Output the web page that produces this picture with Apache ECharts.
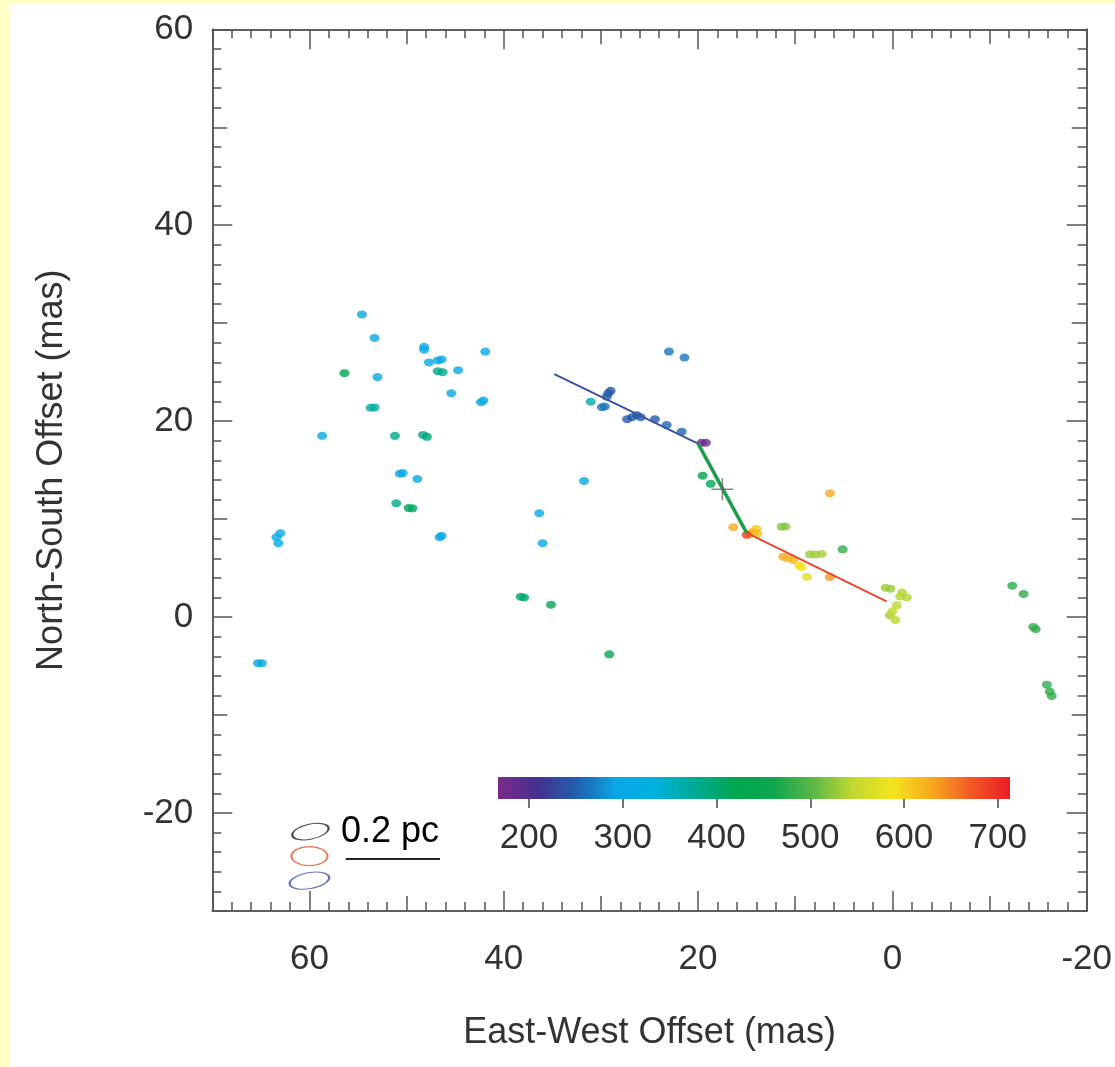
<!DOCTYPE html>
<html lang="en">
<head>
<meta charset="utf-8">
<title>Maser spots</title>
<script src="https://cdn.jsdelivr.net/npm/echarts@6.0.0/dist/echarts.min.js"></script>
<style>
  html, body { margin: 0; padding: 0; background: #ffffc6; }
  #main { position: absolute; left: 10px; top: 4px; width: 1105px; height: 1063px; background: #fff; }
</style>
</head>
<body>
<div id="main"></div>
<script>
// maser spots: [east-west offset (mas), north-south offset (mas), velocity (km/s)]
var spots = [
  [54.6, 30.9, 305], [53.3, 28.5, 305], [48.2, 27.3, 305], [48.2, 27.6, 305],
  [41.9, 27.1, 305], [47.7, 26.0, 305], [46.8, 26.2, 305], [46.4, 26.3, 305],
  [46.8, 25.1, 385], [46.3, 25.0, 385], [44.7, 25.2, 305], [56.4, 24.9, 420],
  [53.0, 24.5, 305], [45.4, 22.85, 305], [42.35, 21.93, 305], [42.1, 22.1, 305],
  [53.7, 21.37, 370], [53.3, 21.4, 370], [58.7, 18.5, 305], [51.2, 18.5, 385],
  [48.3, 18.6, 390], [47.9, 18.4, 390], [50.7, 14.64, 305], [50.4, 14.7, 305],
  [48.9, 14.1, 305], [51.06, 11.62, 385], [49.8, 11.14, 410], [49.4, 11.1, 410],
  [36.35, 10.6, 305], [63.4, 8.15, 305], [63.0, 8.56, 305], [63.2, 7.54, 305],
  [46.6, 8.15, 305], [46.4, 8.3, 305], [36.0, 7.54, 305], [65.3, -4.7, 305],
  [64.9, -4.7, 305], [38.26, 2.08, 400], [37.9, 2.0, 400], [35.14, 1.27, 430],
  [29.14, -3.8, 430], [31.74, 13.9, 305],
  [23.0, 27.1, 265], [21.4, 26.5, 265], [29.24, 22.85, 245], [29.0, 23.1, 245],
  [29.4, 22.5, 250], [31.05, 21.99, 360], [29.9, 21.42, 265], [29.6, 21.5, 265],
  [26.8, 20.4, 245], [27.3, 20.2, 245], [26.3, 20.6, 245], [25.9, 20.4, 250],
  [24.44, 20.2, 250], [23.23, 19.6, 255], [21.69, 18.93, 255],
  [19.63, 17.8, 180], [19.2, 17.8, 180],
  [19.53, 14.44, 420], [18.7, 13.6, 420],
  [6.43, 12.64, 630], [16.38, 9.17, 630], [14.32, 8.72, 620], [14.0, 9.0, 610],
  [14.6, 8.5, 625], [13.9, 8.5, 615], [15.0, 8.4, 690], [11.4, 9.23, 520],
  [11.0, 9.25, 520], [11.23, 6.17, 630], [10.8, 6.0, 620], [10.2, 5.83, 625],
  [9.34, 5.1, 585], [9.6, 5.3, 590], [8.8, 4.1, 570], [8.48, 6.41, 530],
  [7.9, 6.4, 530], [7.28, 6.44, 535], [5.12, 6.92, 480], [6.43, 4.1, 640],
  [0.7, 3.0, 530], [0.2, 2.9, 530], [-0.8, 2.1, 540], [-1.5, 2.0, 540],
  [-1.0, 2.5, 540], [-0.46, 1.2, 545], [0.25, 0.2, 530], [-0.3, -0.3, 545],
  [0.0, 0.6, 550],
  [-12.34, 3.21, 475], [-13.5, 2.36, 480], [-14.75, -1.24, 480], [-14.5, -1.0, 480],
  [-15.9, -6.9, 480], [-16.2, -7.6, 480], [-16.4, -8.05, 480]
];

// fitted jet track, three pieces
var blueTrack = [[34.8, 24.8], [20.0, 17.7]];
var greenTrack = [[20.0, 17.7], [15.0, 8.6]];
var redTrack = [[15.0, 8.6], [0.6, 1.6]];

var centre = [[17.5, 13.05]];
var beamCentres = [[59.9, -21.9], [60.0, -24.4], [60.0, -26.9]];
var scaleBar = [[56.27, -24.7], [46.56, -24.7]];

var xLabels = [-20, 0, 20, 40, 60];
var yLabels = [-20, 0, 20, 40, 60];
var velocityRange = [167, 713];
var velocityLabels = [200, 300, 400, 500, 600, 700];

var jet = ['#7d2b8b', '#44308f', '#2160ad', '#0aa6e6', '#00b2de', '#00aa94', '#00a651',
           '#0ea64e', '#5cb847', '#c0d730', '#f4e41d', '#f8aa1e', '#f15a24', '#ec1c24'];

var FONT = 'Liberation Sans';
var grey = '#555';
var labelStyle = { fontFamily: FONT, fontSize: 35, color: '#333' };

function frameAxis(kind, position, longTicks, labels) {
  var ax = {
    type: 'value',
    gridIndex: 0,
    position: position,
    splitLine: { show: false },
    axisLine: { show: true, onZero: false, lineStyle: { color: grey, width: 1.5 } },
    axisTick: { show: true, inside: true, length: longTicks ? 20 : 15, lineStyle: { color: grey, width: 1.5 } },
    minorTick: { show: !longTicks, splitNumber: 5, length: 9, lineStyle: { color: grey, width: 1.5 } },
    axisLabel: { show: false }
  };
  if (kind === 'x') {
    ax.min = -20; ax.max = 70; ax.interval = 10; ax.inverse = true;
  } else {
    ax.min = -30; ax.max = 60; ax.interval = 10;
  }
  if (longTicks) ax.axisTick.customValues = kind === 'x' ? xLabels : yLabels;
  if (labels) {
    ax.axisLabel = Object.assign({ show: true, customValues: labels, margin: kind === 'x' ? 31 : 19 }, labelStyle);
  }
  return ax;
}

var xMain = frameAxis('x', 'bottom', false, xLabels);
xMain.name = 'East-West Offset (mas)';
xMain.nameLocation = 'middle';
xMain.nameGap = 104;
xMain.nameMoveOverlap = false;
xMain.nameTextStyle = { fontFamily: FONT, fontSize: 36, color: '#333' };

var yMain = frameAxis('y', 'left', false, yLabels);
yMain.name = 'North-South Offset (mas)';
yMain.nameLocation = 'middle';
yMain.nameGap = 142;
yMain.nameMoveOverlap = false;
yMain.nameTextStyle = { fontFamily: FONT, fontSize: 36, color: '#333' };

var barStops = jet.map(function (c, i) { return { offset: i / (jet.length - 1), color: c }; });

var chart = echarts.init(document.getElementById('main'));
chart.setOption({
  backgroundColor: '#fff',
  animation: false,
  grid: [
    { left: 202.3, top: 25.3, width: 874.4, height: 881.7, outerBoundsMode: 'none' },
    { left: 488, top: 773, width: 512, height: 22, outerBoundsMode: 'none' }
  ],
  xAxis: [
    xMain,
    frameAxis('x', 'bottom', true),
    frameAxis('x', 'top', false),
    frameAxis('x', 'top', true),
    {
      type: 'value', gridIndex: 1, position: 'bottom',
      min: velocityRange[0], max: velocityRange[1],
      splitLine: { show: false },
      axisLine: { show: false },
      axisTick: { show: true, customValues: velocityLabels, length: 9, lineStyle: { color: '#444', width: 1.5 } },
      axisLabel: Object.assign({ customValues: velocityLabels, margin: 22 }, labelStyle)
    }
  ],
  yAxis: [
    yMain,
    frameAxis('y', 'left', true),
    frameAxis('y', 'right', false),
    frameAxis('y', 'right', true),
    { type: 'value', gridIndex: 1, min: 0, max: 1, show: false }
  ],
  visualMap: {
    type: 'continuous', show: false, seriesIndex: 0, dimension: 2,
    min: velocityRange[0], max: velocityRange[1],
    inRange: { color: jet }
  },
  graphic: [
    {
      type: 'text', left: 331, top: 810,
      style: { text: '0.2 pc', fontFamily: FONT, fontSize: 36, fill: '#000' }
    }
  ],
  series: [
    {
      type: 'scatter', xAxisIndex: 0, yAxisIndex: 0,
      data: spots, symbol: 'circle', symbolSize: [10, 8], z: 2
    },
    {
      type: 'line', data: blueTrack, symbol: 'none', z: 3,
      lineStyle: { color: '#3d52a1', width: 2 }
    },
    {
      type: 'line', data: greenTrack, symbol: 'none', z: 3,
      lineStyle: { color: '#1b9e4b', width: 3.5 }
    },
    {
      type: 'line', data: redTrack, symbol: 'none', z: 3,
      lineStyle: { color: '#e8462a', width: 1.8 }
    },
    {
      type: 'scatter', data: centre, z: 4,
      symbol: 'path://M0,9.3h20v1.4h-20z M9.3,0h1.4v20h-1.4z', symbolSize: 22,
      itemStyle: { color: '#666' }
    },
    {
      type: 'scatter', z: 4, symbol: 'circle',
      data: beamCentres.map(function (p, i) {
        var looks = [
          { size: [37, 15], rot: 12, color: '#222' },
          { size: [36, 19], rot: 0, color: '#e8542c' },
          { size: [40, 16], rot: 10, color: '#3a4fb0' }
        ][i];
        return {
          value: p, symbolSize: looks.size, symbolRotate: looks.rot,
          itemStyle: { color: 'rgba(0,0,0,0)', borderColor: looks.color, borderWidth: 1.5 }
        };
      })
    },
    {
      type: 'line', data: scaleBar, symbol: 'none', z: 4,
      lineStyle: { color: '#222', width: 2 }
    },
    {
      type: 'custom', xAxisIndex: 4, yAxisIndex: 4,
      data: [velocityRange],
      renderItem: function (params, api) {
        var a = api.coord([api.value(0), 1]);
        var b = api.coord([api.value(1), 0]);
        return {
          type: 'rect',
          shape: { x: a[0], y: a[1], width: b[0] - a[0], height: b[1] - a[1] },
          style: { fill: new echarts.graphic.LinearGradient(0, 0, 1, 0, barStops) }
        };
      }
    }
  ]
});
</script>
</body>
</html>
